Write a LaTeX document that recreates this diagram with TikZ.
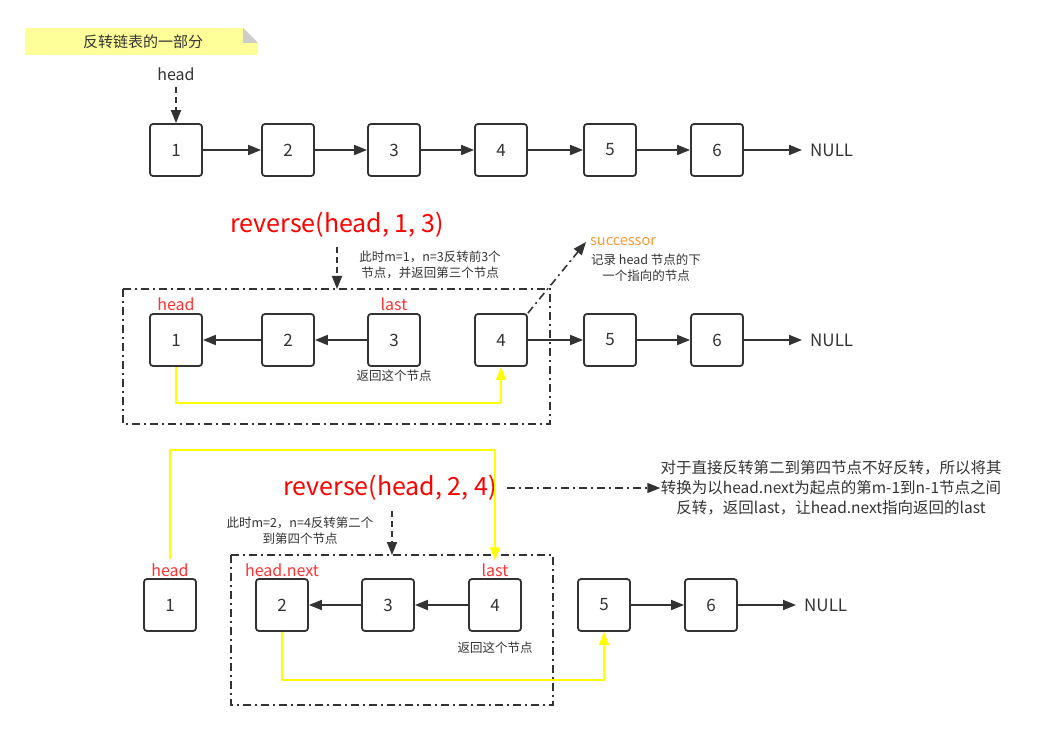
\documentclass[tikz,border=0pt]{standalone}
\usepackage{fontspec}
\setmainfont{Noto Sans CJK SC}
\usetikzlibrary{arrows.meta,positioning,calc}
\definecolor{ink}{HTML}{333333}
\definecolor{lblred}{HTML}{FF3333}
\definecolor{revred}{HTML}{FF0000}
\definecolor{succ}{HTML}{FF9933}
\definecolor{notey}{HTML}{FFFF99}
\definecolor{foldg}{HTML}{CCCCCC}
\definecolor{yel}{HTML}{FFFF00}
\tikzset{
  tip/.style={-{Triangle[length=13pt,width=10pt]}},
  lnode/.style={draw=ink, line width=1.8pt, rounded corners=3pt, minimum width=52pt, minimum height=52pt, inner sep=0pt, text=ink, font=\fontsize{17}{17}\selectfont},
  link/.style={draw=ink, line width=1.8pt, tip},
  dasharrow/.style={draw=ink, line width=1.8pt, dash pattern=on 6pt off 4pt, tip},
  dotdash/.style={draw=ink, line width=1.6pt, dash pattern=on 8pt off 4pt on 2pt off 4pt},
  dotdasharrow/.style={dotdash, tip},
  yline/.style={draw=yel, line width=1.8pt, tip},
  redlbl/.style={text=lblred, font=\fontsize{16}{16}\selectfont, inner sep=0pt},
  nulllbl/.style={text=ink, font=\fontsize{17}{17}\selectfont, inner sep=0pt, anchor=west},
  revlbl/.style={text=revred, font=\fontsize{25}{25}\selectfont, inner sep=0pt},
  small/.style={text=ink, font=\fontsize{12.5}{16}\selectfont, align=center, inner sep=0pt},
  desc/.style={text=ink, font=\fontsize{15.5}{20}\selectfont, align=center, inner sep=0pt},
}
\begin{document}
\begin{tikzpicture}[x=1pt,y=-1pt]
\useasboundingbox (0,0) rectangle (1037,730);
% note
\fill[notey] (25,28) -- (243,28) -- (258,43) -- (258,55) -- (25,55) -- cycle;
\fill[foldg] (243,28) -- (243,43) -- (258,43) -- cycle;
\node[text=ink, font=\fontsize{15}{15}\selectfont, inner sep=0pt] (title) at (143,42) {反转链表的一部分};

% row 1
\node[text=ink, font=\fontsize{16}{16}\selectfont, inner sep=0pt] (h1) at (176,74) {head};
\node[lnode] (a1) at (176,150) {1};
\node[lnode] (a2) at (288,150) {2};
\node[lnode] (a3) at (394,150) {3};
\node[lnode] (a4) at (501,150) {4};
\node[lnode] (a5) at (610,150) {5};
\node[lnode] (a6) at (717,150) {6};
\node[nulllbl] (n1) at (810,150) {NULL};
\draw[dasharrow] ($(h1.south)+(0,6)$) -- (a1.north);
\draw[link] (a1) -- (a2);
\draw[link] (a2) -- (a3);
\draw[link] (a3) -- (a4);
\draw[link] (a4) -- (a5);
\draw[link] (a5) -- (a6);
\draw[link] (a6.east) -- ($(n1.west)+(-8,0)$);

% row 2
\node[revlbl] (r2) at (337,225) {reverse(head, 1, 3)};
\node[small] (ann2) at (430,265) {此时m=1，n=3反转前3个\\节点，并返回第三个节点};
\draw[dotdash] (123,289) rectangle (550,424);
\coordinate (box2top) at (337,289);
\draw[dasharrow] (337,247) -- (box2top);
\node[lnode] (b1) at (176,340) {1};
\node[lnode] (b2) at (288,340) {2};
\node[lnode] (b3) at (394,340) {3};
\node[lnode] (b4) at (501,340) {4};
\node[lnode] (b5) at (610,340) {5};
\node[lnode] (b6) at (717,340) {6};
\node[nulllbl] (n2) at (810,340) {NULL};
\node[redlbl] (hl2) at (176,304) {head};
\node[redlbl] (ll2) at (394,304) {last};
\node[small] (ret2) at (394,376) {返回这个节点};
\draw[link] (b2) -- (b1);
\draw[link] (b3) -- (b2);
\draw[link] (b4) -- (b5);
\draw[link] (b5) -- (b6);
\draw[link] (b6.east) -- ($(n2.west)+(-8,0)$);
\node[text=succ, font=\fontsize{14.5}{14.5}\selectfont, inner sep=0pt, anchor=west] (sc) at (590,242) {successor};
\node[small] (scd) at (646,268) {记录 head 节点的下\\一个指向的节点};
\draw[dotdasharrow] (b4.north east) -- ($(sc.west)+(-4,0)$);
\draw[yline] (b1.south) -- ++(0,36) -| (b4.south);

% row 3
\node[revlbl] (r3) at (390,488) {reverse(head, 2, 4)};
\node[small] (ann3) at (300,531) {此时m=2，n=4反转第二个\\到第四个节点};
\draw[dotdash] (231,555) rectangle (553,705);
\coordinate (box3top) at (392,555);
\draw[dasharrow] (392,511) -- (box3top);
\node[lnode] (c1) at (170,605) {1};
\node[lnode] (c2) at (282,605) {2};
\node[lnode] (c3) at (388,605) {3};
\node[lnode] (c4) at (495,605) {4};
\node[lnode] (c5) at (604,605) {5};
\node[lnode] (c6) at (711,605) {6};
\node[nulllbl] (n3) at (804,605) {NULL};
\node[redlbl] (hl3) at (170,570) {head};
\node[redlbl] (hn3) at (282,570) {head.next};
\node[redlbl] (ll3) at (495,570) {last};
\node[small] (ret3) at (495,648) {返回这个节点};
\draw[link] (c3) -- (c2);
\draw[link] (c4) -- (c3);
\draw[link] (c5) -- (c6);
\draw[link] (c6.east) -- ($(n3.west)+(-8,0)$);
\draw[yline] ($(hl3.north)+(0,-4)$) -- ++(0,-109) -| ($(ll3.north)+(0,-3)$);
\draw[yline] (c2.south) -- ++(0,48) -| (c5.south);
\node[desc] (d3) at (831,488) {对于直接反转第二到第四节点不好反转，所以将其\\转换为以head.next为起点的第m-1到n-1节点之间\\反转，返回last，让head.next指向返回的last};
\draw[dotdasharrow] ($(r3.east)+(10,0)$) -- (d3.west);
\end{tikzpicture}
\end{document}
